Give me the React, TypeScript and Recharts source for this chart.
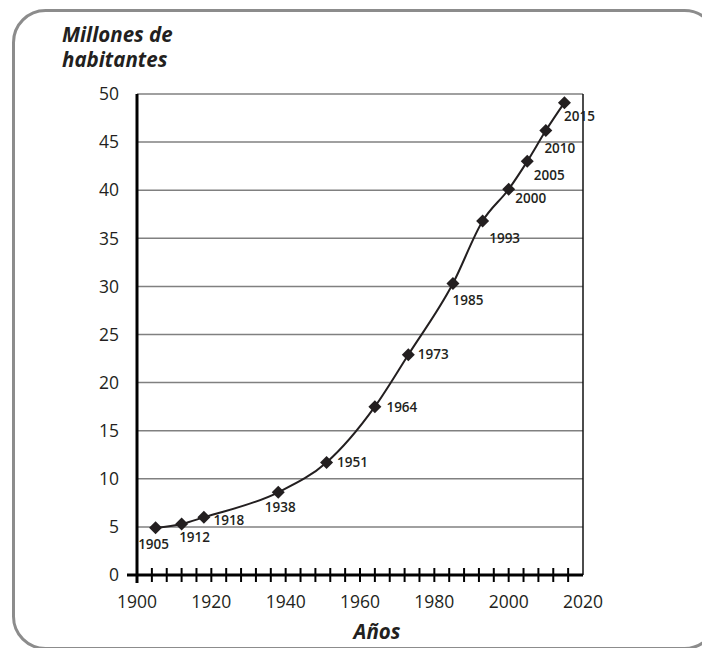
import React from 'react';
import { LineChart, Line, XAxis, YAxis, CartesianGrid, LabelList, ReferenceLine } from 'recharts';

const FONT = '"Open Sans", "Noto Sans", sans-serif';
const INK = '#231f20';

// census years and population (millions)
const years = [1905, 1912, 1918, 1938, 1951, 1964, 1973, 1985, 1993, 2000, 2005, 2010, 2015];
const population = [4.9, 5.3, 6.0, 8.6, 11.7, 17.5, 22.9, 30.3, 36.8, 40.1, 43.0, 46.2, 49.1];

const yTicks = [0, 5, 10, 15, 20, 25, 30, 35, 40, 45, 50];
const xTicks = [
  1900, 1904, 1908, 1912, 1916, 1920, 1924, 1928, 1932, 1936, 1940, 1944, 1948, 1952, 1956,
  1960, 1964, 1968, 1972, 1976, 1980, 1984, 1988, 1992, 1996, 2000, 2004, 2008, 2012, 2016, 2020,
];
const xLabels = [1900, 1920, 1940, 1960, 1980, 2000, 2020];

// where each year label sits relative to its marker
const labelOffsets: [number, number][] = [
  [-2, 16], [13, 13], [25, 3], [2, 15], [26, 0], [27, 1], [25, 0],
  [15, 17], [22, 17], [22, 9], [22, 14], [14, 18], [15, 14],
];

const chartData = years.map((year, i) => ({ year, value: population[i] }));

const TICK_SIZE = 7;
const TICK_MARGIN = 14;

const XTick = (props: any) => {
  const { x, y, payload } = props;
  const year = payload.value;
  const axisY = y - TICK_SIZE - TICK_MARGIN;
  const first = year === xTicks[0];
  const last = year === xTicks[xTicks.length - 1];
  return (
    <g>
      {!first && !last && (
        <line x1={x} x2={x} y1={axisY - 7} y2={axisY + 7} stroke="#000" strokeWidth={2} />
      )}
      {first && (
        <>
          <line x1={x - 10} x2={x} y1={axisY} y2={axisY} stroke="#000" strokeWidth={3} />
          <line x1={x} x2={x} y1={axisY} y2={axisY + 8} stroke="#000" strokeWidth={3} />
        </>
      )}
      {xLabels.includes(year) && (
        <text x={x} y={y} dy="0.71em" textAnchor="middle" fontSize={17.5} fill={INK} fontFamily={FONT}>
          {year}
        </text>
      )}
    </g>
  );
};

const Diamond = (props: any) => {
  const { cx, cy } = props;
  if (cx == null || cy == null) return null;
  const r = 6.5;
  return <path d={`M${cx},${cy - r}L${cx + r},${cy}L${cx},${cy + r}L${cx - r},${cy}Z`} fill={INK} />;
};

const YearLabel = (props: any) => {
  const { value } = props;
  const x = props.x ?? props.viewBox?.x;
  const y = props.y ?? props.viewBox?.y;
  const i = years.indexOf(value);
  const [dx, dy] = labelOffsets[i] ?? [0, 0];
  return (
    <text
      x={x + dx}
      y={y + dy}
      dy="0.35em"
      textAnchor="middle"
      fontSize={13.5}
      fontWeight={600}
      fill={INK}
      fontFamily={FONT}
    >
      {value}
    </text>
  );
};

const titleStyle: React.CSSProperties = {
  position: 'absolute',
  fontSize: 20.5,
  lineHeight: '22px',
  fontWeight: 700,
  fontStyle: 'italic',
  color: INK,
  whiteSpace: 'nowrap',
};

export default function App() {
  return (
    <div
      style={{
        position: 'absolute',
        left: 0,
        top: 0,
        width: 702,
        height: 648,
        overflow: 'hidden',
        background: '#fff',
        fontFamily: FONT,
      }}
    >
      <svg width={702} height={648} style={{ position: 'absolute', left: 0, top: 0 }}>
        <rect x={13.5} y={10.5} width={703} height={638} rx={32} ry={32} fill="none" stroke="#8c8c8c" strokeWidth={3} />
      </svg>
      <div style={{ ...titleStyle, left: 62, top: 23 }}>Millones de</div>
      <div style={{ ...titleStyle, left: 62, top: 48 }}>habitantes</div>
      <div style={{ ...titleStyle, left: 277, width: 200, top: 620, textAlign: 'center' }}>Años</div>
      <div style={{ position: 'absolute', left: 0, top: 0 }}>
        <LineChart width={702} height={648} data={chartData} margin={{ top: 94, right: 119, bottom: 33, left: 0 }}>
          <CartesianGrid vertical={false} stroke="#808080" strokeWidth={1.5} />
          <XAxis
            dataKey="year"
            type="number"
            domain={[1900, 2020]}
            ticks={xTicks}
            interval={0}
            height={40}
            axisLine={{ stroke: '#000', strokeWidth: 3 }}
            tickLine={false}
            tickSize={TICK_SIZE}
            tickMargin={TICK_MARGIN}
            tick={<XTick />}
          />
          <YAxis
            domain={[0, 50]}
            ticks={yTicks}
            interval={0}
            width={137}
            axisLine={{ stroke: '#000', strokeWidth: 3 }}
            tickLine={false}
            tickSize={0}
            tickMargin={18}
            tick={{ fontSize: 17.5, fill: INK, fontFamily: FONT }}
          />
          <ReferenceLine x={2020} stroke="#111" strokeWidth={1.5} />
          <Line
            type="monotone"
            dataKey="value"
            stroke={INK}
            strokeWidth={2}
            dot={<Diamond />}
            activeDot={false}
            isAnimationActive={false}
          >
            <LabelList dataKey="year" content={<YearLabel />} />
          </Line>
        </LineChart>
      </div>
    </div>
  );
}
